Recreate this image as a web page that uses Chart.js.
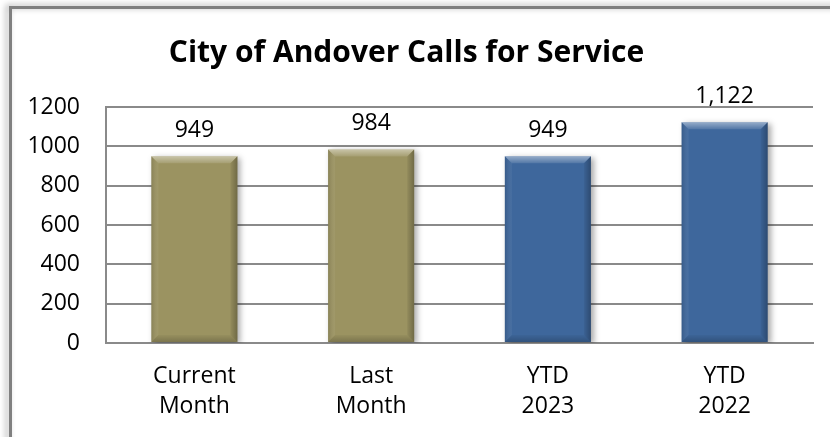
<!DOCTYPE html>
<html>
<head>
<meta charset="utf-8">
<script src="https://cdn.jsdelivr.net/npm/chart.js@4.4.0/dist/chart.umd.min.js"></script>
<style>
  html, body { margin: 0; padding: 0; background: #ffffff; }
  #wrap { width: 830px; height: 437px; }
</style>
</head>
<body>
<div id="wrap"><canvas id="callsChart" width="830" height="437"></canvas></div>
<script>
// chart data
const categories = [["Current", "Month"], ["Last", "Month"], ["YTD", "2023"], ["YTD", "2022"]];
const callCounts = [949, 984, 949, 1122];
const yMin = 0;
const yMax = 1200;
const yStep = 200;
const chartTitle = "City of Andover Calls for Service";

// styles
const barColors = ["#9b9361", "#9b9361", "#3e679c", "#3e679c"];
const fontFamily = "'Open Sans', sans-serif";
const gridColor = "#8a8a8a";

// outer frame like the pasted Excel picture
const framePlugin = {
    id: "frame",
    beforeDraw(chart) {
        const ctx = chart.ctx;
        ctx.save();
        ctx.fillStyle = "#ffffff";
        ctx.fillRect(0, 0, chart.width, chart.height);
        ctx.shadowColor = "rgba(0,0,0,0.35)";
        ctx.shadowBlur = 6;
        ctx.shadowOffsetX = -3;
        ctx.shadowOffsetY = -1;
        ctx.strokeStyle = "#808080";
        ctx.lineWidth = 3;
        ctx.strokeRect(10.5, 7.5, chart.width + 20, chart.height + 20);
        ctx.restore();
    }
};

// soft shadow under the bars, then a bevel on top of each one
const bevelPlugin = {
    id: "bevel",
    beforeDatasetsDraw(chart) {
        const ctx = chart.ctx;
        ctx.save();
        ctx.shadowColor = "rgba(0,0,0,0.35)";
        ctx.shadowBlur = 6;
        ctx.shadowOffsetX = 3;
        ctx.shadowOffsetY = 2;
    },
    afterDatasetsDraw(chart) {
        const ctx = chart.ctx;
        ctx.restore();
        const meta = chart.getDatasetMeta(0);
        meta.data.forEach((bar) => {
            const p = bar.getProps(["x", "y", "base", "width"], true);
            const l = p.x - p.width / 2;
            const r = p.x + p.width / 2;
            const t = p.y;
            const b = p.base;
            const s = 7;
            const poly = (pts, fill) => {
                ctx.beginPath();
                ctx.moveTo(pts[0][0], pts[0][1]);
                for (let i = 1; i < pts.length; i++) ctx.lineTo(pts[i][0], pts[i][1]);
                ctx.closePath();
                ctx.fillStyle = fill;
                ctx.fill();
            };
            ctx.save();
            const topGrad = ctx.createLinearGradient(0, t, 0, t + s);
            topGrad.addColorStop(0, "rgba(255,255,255,0.45)");
            topGrad.addColorStop(1, "rgba(255,255,255,0.1)");
            poly([[l, t], [r, t], [r - s, t + s], [l + s, t + s]], topGrad);
            const leftGrad = ctx.createLinearGradient(l, 0, l + s, 0);
            leftGrad.addColorStop(0, "rgba(0,0,0,0.12)");
            leftGrad.addColorStop(1, "rgba(255,255,255,0.05)");
            poly([[l, t], [l + s, t + s], [l + s, b - s], [l, b]], leftGrad);
            const rightGrad = ctx.createLinearGradient(r - s, 0, r, 0);
            rightGrad.addColorStop(0, "rgba(0,0,0,0.05)");
            rightGrad.addColorStop(1, "rgba(0,0,0,0.28)");
            poly([[r, t], [r, b], [r - s, b - s], [r - s, t + s]], rightGrad);
            const botGrad = ctx.createLinearGradient(0, b - s, 0, b);
            botGrad.addColorStop(0, "rgba(0,0,0,0.03)");
            botGrad.addColorStop(1, "rgba(0,0,0,0.2)");
            poly([[l, b], [r, b], [r - s, b - s], [l + s, b - s]], botGrad);
            ctx.restore();
        });
    }
};

// value labels above the bars
const valueLabelPlugin = {
    id: "valueLabels",
    afterDatasetsDraw(chart) {
        const ctx = chart.ctx;
        const meta = chart.getDatasetMeta(0);
        ctx.save();
        ctx.font = "23px " + fontFamily;
        ctx.fillStyle = "#000000";
        ctx.textAlign = "center";
        ctx.textBaseline = "alphabetic";
        meta.data.forEach((bar, i) => {
            const value = chart.data.datasets[0].data[i];
            ctx.fillText(value.toLocaleString("en-US"), bar.x, bar.y - 19);
        });
        ctx.restore();
    }
};

const ctx = document.getElementById("callsChart").getContext("2d");
new Chart(ctx, {
    type: "bar",
    data: {
        labels: categories,
        datasets: [
            {
                label: "Calls for Service",
                data: callCounts,
                backgroundColor: barColors,
                borderWidth: 0,
                categoryPercentage: 1,
                barPercentage: 0.487,
            },
        ],
    },
    options: {
        responsive: false,
        animation: false,
        devicePixelRatio: 1,
        layout: {
            padding: { left: 0, right: 17, top: 0, bottom: 0 },
        },
        plugins: {
            legend: { display: false },
            tooltip: { enabled: false },
            title: {
                display: true,
                text: chartTitle,
                color: "#000000",
                font: { family: fontFamily, size: 30, weight: "bold", lineHeight: 1.2 },
                padding: { top: 35, bottom: 36 },
            },
        },
        scales: {
            x: {
                grid: { display: false, drawTicks: false },
                border: { display: true, color: gridColor, width: 2 },
                ticks: {
                    color: "#000000",
                    padding: 18,
                    maxRotation: 0,
                    font: { family: fontFamily, size: 23, lineHeight: 1.32 },
                },
                afterFit(scale) {
                    scale.height = 94;
                },
            },
            y: {
                min: yMin,
                max: yMax,
                ticks: {
                    stepSize: yStep,
                    color: "#000000",
                    padding: 26,
                    font: { family: fontFamily, size: 23 },
                    callback: (value) => String(value),
                },
                grid: { color: gridColor, lineWidth: 2, drawTicks: false },
                border: { display: true, color: gridColor, width: 2 },
                afterFit(scale) {
                    scale.width = 106;
                },
            },
        },
    },
    plugins: [framePlugin, bevelPlugin, valueLabelPlugin],
});
</script>
</body>
</html>
